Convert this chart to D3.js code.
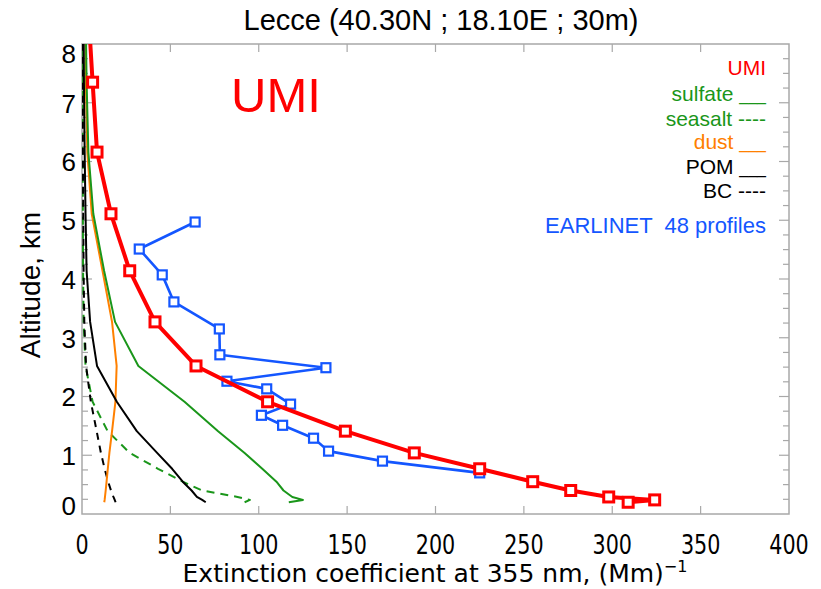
<!DOCTYPE html>
<html>
<head>
<meta charset="utf-8">
<script src="https://cdn.jsdelivr.net/npm/d3@7"></script>
<style>
  html, body { margin: 0; padding: 0; background: #fff; }
  svg { display: block; }
</style>
</head>
<body>
<svg id="chart" width="821" height="589"></svg>
<script>
// Model levels (km) shared by the UMI total and its components
const altitude = [0.20, 0.24, 0.29, 0.40, 0.55, 0.77, 1.04, 1.41, 1.91, 2.52, 3.27, 4.14, 5.11, 6.16, 7.35, 8.70];
// Extinction at 355 nm, (Mm)^-1
const umi      = [309, 324, 298, 276.5, 255, 225, 188, 149, 105, 64.5, 41.3, 27, 16.4, 8.5, 6.0, 3.3];
const sulfate  = [117, 125, 119, 114, 110, 102, 92, 77, 58, 31.9, 18.7, 12.5, 6.4, 3.6, 2.6, 2.0];
const seasalt  = [92, 95, 88, 68, 57, 43, 27, 14.5, 6.0, 2.0, 0.9, 0.6, 0.5, 0.4, 0.3, 0.3];
const dust     = [12.6, 12.8, 13.0, 13.4, 13.9, 14.6, 15.5, 17.0, 18.9, 19.6, 17.0, 11.6, 5.5, 3.0, 2.2, 1.8];
const pom      = [70, 68, 65, 62, 57, 51, 42.5, 31, 19.7, 8.5, 4.6, 2.6, 2.0, 1.5, 1.1, 0.8];
const bc       = [19, 18.5, 17.8, 16.4, 14.8, 12.8, 10.7, 8.3, 5.0, 2.3, 1.3, 0.9, 0.7, 0.5, 0.4, 0.3];

// EARLINET mean profile (48 profiles)
const earlinetAltitude = [0.70, 0.90, 1.07, 1.29, 1.51, 1.68, 1.87, 2.13, 2.26, 2.49, 2.71, 3.15, 3.61, 4.07, 4.51, 4.97];
const earlinet         = [225, 170, 139.5, 131, 113.5, 101.5, 118, 104.5, 82, 138, 78, 77.7, 52, 45.4, 32.4, 64];

const xTicks = [0, 50, 100, 150, 200, 250, 300, 350, 400];
const yTicks = [0, 1, 2, 3, 4, 5, 6, 7, 8];

const legendItems = [
  { name: "UMI",     key: "",     color: "#ff0000" },
  { name: "sulfate", key: "___",  color: "#1a961a" },
  { name: "seasalt", key: "----", color: "#1a961a" },
  { name: "dust",    key: "___",  color: "#ff8000" },
  { name: "POM",     key: "___",  color: "#000000" },
  { name: "BC",      key: "----", color: "#000000" }
];

const svg = d3.select("#chart");
const plotLeft = 82, plotRight = 789, plotTop = 44, plotBottom = 514;

const x = d3.scaleLinear().domain([0, 400]).range([plotLeft, plotRight]);
const y = d3.scaleLinear().domain([0, 8]).range([plotBottom, plotTop]);

const frameColor = "#a8a8a8";
const sans = "Liberation Sans, Arial, sans-serif";
const cond = "DejaVu Sans Condensed, DejaVu Sans, sans-serif";

// Title
svg.append("text")
  .attr("x", 441).attr("y", 30)
  .attr("text-anchor", "middle")
  .attr("font-family", sans)
  .attr("font-size", 29)
  .text("Lecce (40.30N ; 18.10E ; 30m)");

// Frame
svg.append("rect")
  .attr("x", plotLeft).attr("y", plotTop)
  .attr("width", plotRight - plotLeft).attr("height", plotBottom - plotTop)
  .attr("fill", "none").attr("stroke", frameColor).attr("stroke-width", 1.5);

// X ticks (bottom up, top down)
const tickLayer = svg.append("g").attr("stroke", frameColor).attr("stroke-width", 1.2);
xTicks.slice(1, -1).forEach(t => {
  tickLayer.append("line").attr("x1", x(t)).attr("x2", x(t)).attr("y1", plotBottom).attr("y2", plotBottom - 8);
  tickLayer.append("line").attr("x1", x(t)).attr("x2", x(t)).attr("y1", plotTop).attr("y2", plotTop + 8);
});
// Y ticks, major and minor (0.25 km)
d3.range(0.25, 8, 0.25).forEach(t => {
  const isMajor = Math.abs(t - Math.round(t)) < 1e-6;
  const len = isMajor ? 10 : 6;
  tickLayer.append("line").attr("x1", plotLeft).attr("x2", plotLeft + len).attr("y1", y(t)).attr("y2", y(t));
  tickLayer.append("line").attr("x1", plotRight).attr("x2", plotRight - len).attr("y1", y(t)).attr("y2", y(t));
});

// X tick labels (narrow, tall digits)
svg.append("g").selectAll("text").data(xTicks).join("text")
  .attr("transform", d => `translate(${x(d)},554) scale(0.92,1.08)`)
  .attr("text-anchor", "middle")
  .attr("font-family", cond)
  .attr("font-size", 25)
  .text(d => d);

// Y tick labels
svg.append("g").selectAll("text").data(yTicks).join("text")
  .attr("x", 76).attr("y", d => y(d))
  .attr("dy", d => d === 8 ? "0.72em" : (d === 0 ? "0.03em" : "0.38em"))
  .attr("text-anchor", "end")
  .attr("font-family", sans)
  .attr("font-size", 26)
  .text(d => d);

// Axis titles
const xTitle = svg.append("text")
  .attr("x", 435).attr("y", 582)
  .attr("text-anchor", "middle")
  .attr("font-family", "DejaVu Sans, sans-serif")
  .attr("font-size", 25);
xTitle.append("tspan").text("Extinction coefficient at 355 nm, (Mm)");
xTitle.append("tspan").attr("dy", -10).attr("font-size", 16).text("\u22121");

svg.append("text")
  .attr("transform", "translate(40,285) rotate(-90)")
  .attr("text-anchor", "middle")
  .attr("font-family", sans)
  .attr("font-size", 28)
  .text("Altitude, km");

// Plot clip
svg.append("clipPath").attr("id", "plotClip")
  .append("rect").attr("x", plotLeft).attr("y", plotTop)
  .attr("width", plotRight - plotLeft).attr("height", plotBottom - plotTop);
const plot = svg.append("g").attr("clip-path", "url(#plotClip)");

const line = d3.line().x(d => x(d[0])).y(d => y(d[1]));
const pairs = (vals, alts) => vals.map((v, i) => [v, alts[i]]);

function drawProfile(vals, alts, color, width, dash) {
  plot.append("path")
    .datum(pairs(vals, alts))
    .attr("d", line)
    .attr("fill", "none")
    .attr("stroke", color)
    .attr("stroke-width", width)
    .attr("stroke-linejoin", "round")
    .attr("stroke-dasharray", dash || null);
}

function drawMarkers(vals, alts, color, size, width) {
  plot.append("g").selectAll("rect").data(pairs(vals, alts)).join("rect")
    .attr("x", d => x(d[0]) - size / 2).attr("y", d => y(d[1]) - size / 2)
    .attr("width", size).attr("height", size)
    .attr("fill", "#fff").attr("stroke", color).attr("stroke-width", width);
}

drawProfile(seasalt, altitude, "#1a961a", 2, "8,6");
drawProfile(bc, altitude, "#000000", 2, "7,6");
drawProfile(dust, altitude, "#ff8000", 2);
drawProfile(pom, altitude, "#000000", 2);
drawProfile(sulfate, altitude, "#1a961a", 2);

// EARLINET
drawProfile(earlinet, earlinetAltitude, "#1456ff", 2.6);
drawMarkers(earlinet, earlinetAltitude, "#1456ff", 9, 2.2);

// UMI total
drawProfile(umi, altitude, "#ff0000", 4);
drawMarkers(umi, altitude, "#ff0000", 10, 3);

// Big model label
svg.append("text")
  .attr("x", 231).attr("y", 112)
  .attr("font-family", sans)
  .attr("font-size", 49)
  .attr("fill", "#ff0000")
  .text("UMI");

// Legend: name followed by a typed line-style key
const legendBaselines = [75, 101, 126, 149, 174, 198];
const legend = svg.append("g").selectAll("text").data(legendItems).join("text")
  .attr("x", 766).attr("y", (d, i) => legendBaselines[i])
  .attr("text-anchor", "end")
  .attr("font-family", sans)
  .attr("font-size", 21)
  .attr("fill", d => d.color);
legend.append("tspan").text(d => d.key ? d.name + " " : d.name);
legend.append("tspan")
  .attr("font-size", d => d.key === "___" ? 16 : 21)
  .text(d => d.key);

svg.append("text")
  .attr("x", 766).attr("y", 233)
  .attr("text-anchor", "end")
  .attr("font-family", sans)
  .attr("font-size", 22)
  .attr("fill", "#1456ff")
  .style("white-space", "pre")
  .text("EARLINET  48 profiles");
</script>
</body>
</html>
